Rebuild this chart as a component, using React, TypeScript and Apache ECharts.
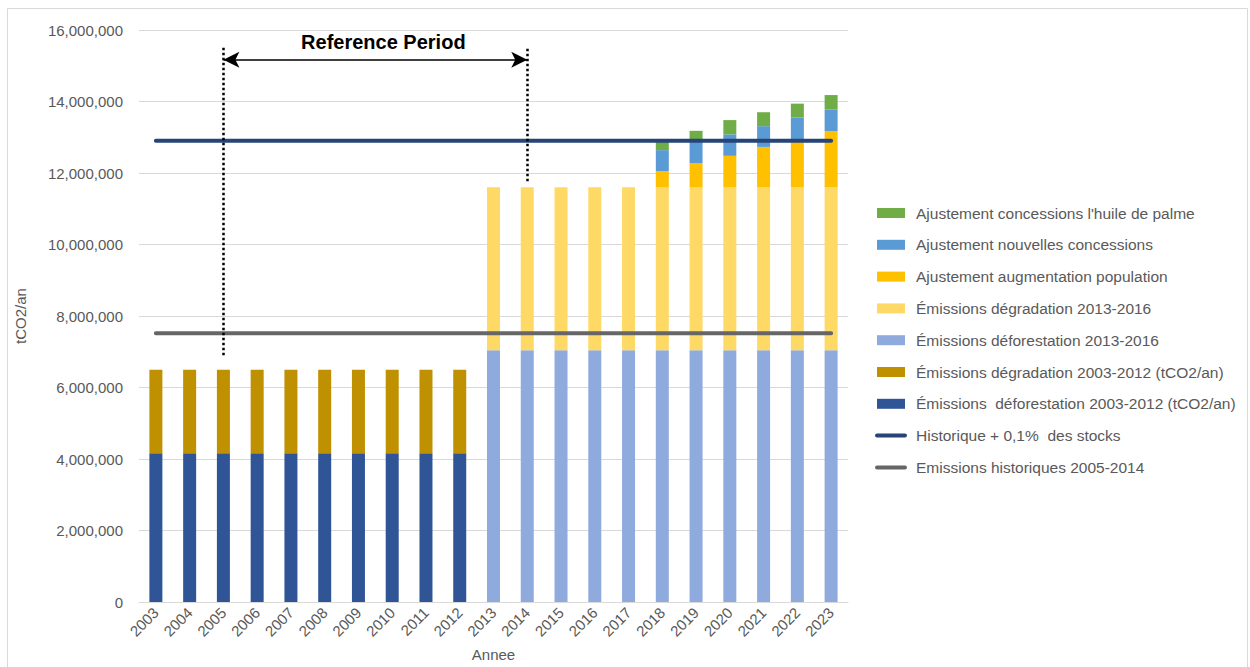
import React, { useEffect, useRef } from 'react';
import * as echarts from 'echarts';

const years = ['2003', '2004', '2005', '2006', '2007', '2008', '2009', '2010', '2011', '2012', '2013', '2014', '2015', '2016', '2017', '2018', '2019', '2020', '2021', '2022', '2023'];

const defHist = [4160000, 4160000, 4160000, 4160000, 4160000, 4160000, 4160000, 4160000, 4160000, 4160000, 0, 0, 0, 0, 0, 0, 0, 0, 0, 0, 0];
const degHist = [2340000, 2340000, 2340000, 2340000, 2340000, 2340000, 2340000, 2340000, 2340000, 2340000, 0, 0, 0, 0, 0, 0, 0, 0, 0, 0, 0];
const defRef = [0, 0, 0, 0, 0, 0, 0, 0, 0, 0, 7040000, 7040000, 7040000, 7040000, 7040000, 7040000, 7040000, 7040000, 7040000, 7040000, 7040000];
const degRef = [0, 0, 0, 0, 0, 0, 0, 0, 0, 0, 4560000, 4560000, 4560000, 4560000, 4560000, 4560000, 4560000, 4560000, 4560000, 4560000, 4560000];
const adjPopulation = [0, 0, 0, 0, 0, 0, 0, 0, 0, 0, 0, 0, 0, 0, 0, 450000, 680000, 880000, 1130000, 1310000, 1570000];
const adjConcessions = [0, 0, 0, 0, 0, 0, 0, 0, 0, 0, 0, 0, 0, 0, 0, 590000, 640000, 600000, 580000, 640000, 610000];
const adjPalme = [0, 0, 0, 0, 0, 0, 0, 0, 0, 0, 0, 0, 0, 0, 0, 260000, 260000, 400000, 390000, 390000, 400000];
const histPlusStocks = [12900000, 12900000, 12900000, 12900000, 12900000, 12900000, 12900000, 12900000, 12900000, 12900000, 12900000, 12900000, 12900000, 12900000, 12900000, 12900000, 12900000, 12900000, 12900000, 12900000, 12900000];
const histEmissions = [7520000, 7520000, 7520000, 7520000, 7520000, 7520000, 7520000, 7520000, 7520000, 7520000, 7520000, 7520000, 7520000, 7520000, 7520000, 7520000, 7520000, 7520000, 7520000, 7520000, 7520000];

const refStart = '2005';
const refEnd = '2014';
const refArrowLevel = 15170000;
const refDotTop = 15530000;
const refLeftDotBottom = 6900000;
const refRightDotBottom = 11770000;

const names = {
  palme: "Ajustement concessions l'huile de palme",
  conc: 'Ajustement nouvelles concessions',
  pop: 'Ajustement augmentation population',
  degRef: 'Émissions dégradation 2013-2016',
  defRef: 'Émissions déforestation 2013-2016',
  degHist: 'Émissions dégradation 2003-2012 (tCO2/an)',
  defHist: 'Émissions  déforestation 2003-2012 (tCO2/an)',
  histPlus: 'Historique + 0,1%  des stocks',
  histEm: 'Emissions historiques 2005-2014',
};

export default function App() {
  const ref = useRef<HTMLDivElement>(null);
  useEffect(() => {
    const chart = echarts.init(ref.current!, null, { renderer: 'svg' });
    const font = "'Liberation Sans', Arial, sans-serif";
    const gray = '#595959';
    const bar = (name: string, data: number[], color: string) => ({
      name,
      type: 'bar',
      stack: 'total',
      data,
      barWidth: 13,
      itemStyle: { color },
      z: 2,
    });
    const line = (name: string, data: number[], color: string) => ({
      name,
      type: 'line',
      data,
      symbol: 'none',
      lineStyle: { color, width: 4, cap: 'round' },
      itemStyle: { color },
      z: 3,
    });
    const lineLegend = (name: string, color: string) => ({
      name,
      itemStyle: { color: 'rgba(0,0,0,0)', opacity: 0, borderWidth: 0 },
      lineStyle: { color, width: 4, cap: 'round' },
    });
    chart.setOption({
      animation: false,
      textStyle: { fontFamily: font },
      graphic: [
        {
          type: 'rect',
          shape: { x: 7.5, y: 8.5, width: 1240, height: 680 },
          style: { fill: 'none', stroke: '#D9D9D9', lineWidth: 1 },
          silent: true,
        },
      ],
      grid: { left: 139, right: 402, top: 30, bottom: 62, containLabel: false },
      legend: {
        orient: 'vertical',
        left: 870,
        top: 200,
        itemWidth: 28,
        itemHeight: 10,
        itemGap: 15.8,
        textStyle: { color: gray, fontSize: 15.5, fontFamily: font, padding: [0, 0, 0, 6] },
        data: [
          { name: names.palme, icon: 'rect' },
          { name: names.conc, icon: 'rect' },
          { name: names.pop, icon: 'rect' },
          { name: names.degRef, icon: 'rect' },
          { name: names.defRef, icon: 'rect' },
          { name: names.degHist, icon: 'rect' },
          { name: names.defHist, icon: 'rect' },
          lineLegend(names.histPlus, '#264478'),
          lineLegend(names.histEm, '#666666'),
        ],
      },
      xAxis: {
        type: 'category',
        data: years,
        name: 'Annee',
        nameLocation: 'middle',
        nameGap: 45,
        nameTextStyle: { color: gray, fontSize: 15 },
        axisTick: { show: false },
        axisLine: { lineStyle: { color: '#D9D9D9', width: 1 } },
        axisLabel: { rotate: 45, color: gray, fontSize: 15, margin: 8, interval: 0 },
      },
      yAxis: {
        type: 'value',
        min: 0,
        max: 16000000,
        interval: 2000000,
        name: 'tCO2/an',
        nameLocation: 'middle',
        nameGap: 111,
        nameTextStyle: { color: gray, fontSize: 15 },
        axisLabel: {
          color: gray,
          fontSize: 15,
          margin: 16,
          formatter: (v: number) => v.toLocaleString('en-US'),
        },
        splitLine: { lineStyle: { color: '#D9D9D9', width: 1 } },
      },
      series: [
        bar(names.defHist, defHist, '#2F5597'),
        bar(names.degHist, degHist, '#BF9000'),
        bar(names.defRef, defRef, '#8FAADC'),
        bar(names.degRef, degRef, '#FFD966'),
        bar(names.pop, adjPopulation, '#FFC000'),
        bar(names.conc, adjConcessions, '#5B9BD5'),
        bar(names.palme, adjPalme, '#70AD47'),
        line(names.histPlus, histPlusStocks, '#264478'),
        line(names.histEm, histEmissions, '#666666'),
        {
          name: 'annotations',
          type: 'line',
          data: [],
          silent: true,
          z: 5,
          markLine: {
            silent: true,
            symbol: 'none',
            animation: false,
            data: [
              [
                { coord: [refStart, refLeftDotBottom], lineStyle: { color: '#000', width: 2.5, type: 'dotted' }, label: { show: false } },
                { coord: [refStart, refDotTop] },
              ],
              [
                { coord: [refEnd, refRightDotBottom], lineStyle: { color: '#000', width: 2.5, type: 'dotted' }, label: { show: false } },
                { coord: [refEnd, refDotTop] },
              ],
              [
                {
                  coord: [refStart, refArrowLevel],
                  symbol: 'arrow',
                  symbolSize: [12, 16],
                  lineStyle: { color: '#000', width: 1.5, type: 'solid' },
                  label: {
                    show: true,
                    position: 'middle',
                    formatter: 'Reference Period',
                    color: '#000',
                    fontSize: 20,
                    fontWeight: 'bold',
                    fontFamily: font,
                    distance: 8,
                    padding: [0, 0, 0, 16],
                  },
                },
                { coord: [refEnd, refArrowLevel], symbol: 'arrow', symbolSize: [12, 16] },
              ],
            ],
          },
        },
      ],
    });
    return () => chart.dispose();
  }, []);
  return <div ref={ref} style={{ position: 'absolute', left: 0, top: 0, width: 1250, height: 667 }} />;
}
